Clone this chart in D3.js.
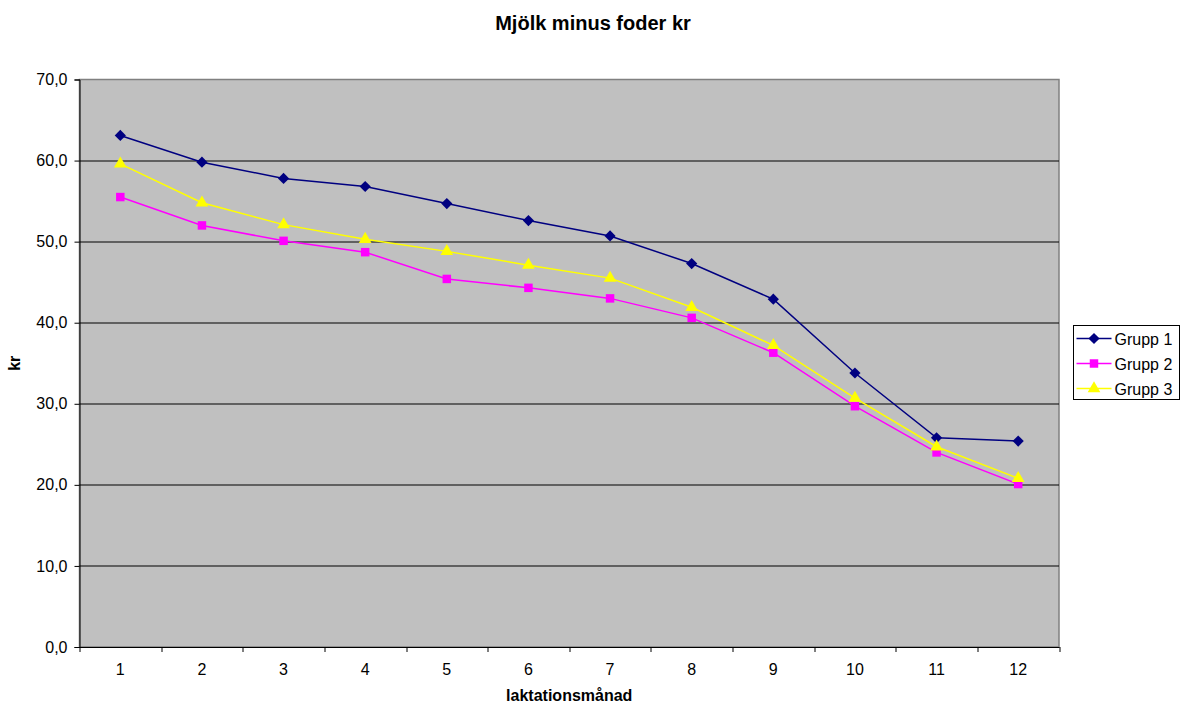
<!DOCTYPE html>
<html>
<head>
<meta charset="utf-8">
<script src="https://cdn.jsdelivr.net/npm/d3@7"></script>
<style>
  body { margin: 0; background: #fff; }
  text { font-family: "Liberation Sans", Arial, sans-serif; }
</style>
</head>
<body>
<div id="chart"></div>
<script>
const months = [1, 2, 3, 4, 5, 6, 7, 8, 9, 10, 11, 12];
const grupp1 = [63.1, 59.8, 57.8, 56.8, 54.7, 52.6, 50.7, 47.3, 42.9, 33.8, 25.8, 25.4];
const grupp2 = [55.5, 52.0, 50.1, 48.7, 45.4, 44.3, 43.0, 40.6, 36.3, 29.7, 24.0, 20.1];
const grupp3 = [59.6, 54.8, 52.1, 50.3, 48.8, 47.1, 45.5, 41.9, 37.2, 30.7, 24.7, 20.8];
const yTicks = [0, 10, 20, 30, 40, 50, 60, 70];

const series = [
  { name: "Grupp 1", values: grupp1, color: "#000080", symbol: d3.symbolDiamond2, size: 80 },
  { name: "Grupp 2", values: grupp2, color: "#ff00ff", symbol: d3.symbolSquare, size: 72 },
  { name: "Grupp 3", values: grupp3, color: "#ffff00", symbol: d3.symbolTriangle, size: 70 }
];

const W = 1183, H = 706;
const margin = { top: 79.5, right: 124, bottom: 59, left: 79.5 };
const width = W - margin.left - margin.right;
const height = H - margin.top - margin.bottom;

const svg = d3.select("#chart").append("svg")
  .attr("width", W).attr("height", H);

svg.append("text")
  .attr("x", 593).attr("y", 30)
  .attr("text-anchor", "middle")
  .style("font-size", "20px").style("font-weight", "bold")
  .text("Mjölk minus foder kr");

const g = svg.append("g").attr("transform", `translate(${margin.left},${margin.top})`);

const x = d3.scaleBand().domain(months).range([0, width]);
const y = d3.scaleLinear().domain([0, 70]).range([height, 0]);

g.append("rect")
  .attr("width", width).attr("height", height)
  .attr("fill", "#c0c0c0")
  .attr("stroke", "#808080").attr("stroke-width", 1.5);

// gridlines
g.selectAll(".grid").data(yTicks.filter(d => d > 0 && d < 70)).join("line")
  .attr("x1", 0).attr("x2", width)
  .attr("y1", d => Math.round(y(d)) + 0.5).attr("y2", d => Math.round(y(d)) + 0.5)
  .attr("stroke", "#000").attr("stroke-width", 1);

// y axis
const yAxis = g.append("g")
  .call(d3.axisLeft(y).tickValues(yTicks).tickSize(5).tickPadding(7)
    .tickFormat(d => d3.format(".1f")(d).replace(".", ",")));
yAxis.select(".domain").attr("stroke", "#000");
yAxis.selectAll("text").style("font-size", "16px").attr("fill", "#000");

// x axis
const xAxis = g.append("g").attr("transform", `translate(0,${height})`)
  .call(d3.axisBottom(x).tickSize(0).tickPadding(17));
xAxis.select(".domain").attr("stroke", "#000");
xAxis.selectAll("text").style("font-size", "16px").attr("fill", "#000");
xAxis.selectAll(".sep").data(d3.range(months.length + 1)).join("line")
  .attr("x1", i => Math.round(i * x.step()) + 0.5).attr("x2", i => Math.round(i * x.step()) + 0.5)
  .attr("y1", 0).attr("y2", 5).attr("stroke", "#000");

// axis titles
svg.append("text")
  .attr("x", margin.left + width / 2).attr("y", 701)
  .attr("text-anchor", "middle")
  .style("font-size", "16px").style("font-weight", "bold")
  .text("laktationsmånad");

svg.append("text")
  .attr("transform", `translate(20,${margin.top + height / 2}) rotate(-90)`)
  .attr("text-anchor", "middle")
  .style("font-size", "16px").style("font-weight", "bold")
  .text("kr");

// lines
const line = d3.line()
  .x((d, i) => x(months[i]) + x.bandwidth() / 2)
  .y(d => y(d));

series.forEach(s => {
  g.append("path").datum(s.values)
    .attr("fill", "none").attr("stroke", s.color).attr("stroke-width", 1.5)
    .attr("d", line);
  g.selectAll(null).data(s.values).join("path")
    .attr("transform", (d, i) => `translate(${x(months[i]) + x.bandwidth() / 2},${y(d)})`)
    .attr("d", d3.symbol().type(s.symbol).size(s.size))
    .attr("fill", s.color);
});

// legend
const lg = svg.append("g").attr("transform", "translate(1073.5,325.5)");
lg.append("rect").attr("width", 106).attr("height", 74)
  .attr("fill", "#fff").attr("stroke", "#000");
series.forEach((s, i) => {
  const ly = 13 + i * 25;
  lg.append("line").attr("x1", 3).attr("x2", 38).attr("y1", ly).attr("y2", ly)
    .attr("stroke", s.color).attr("stroke-width", 1.5);
  lg.append("path").attr("transform", `translate(20.5,${ly})`)
    .attr("d", d3.symbol().type(s.symbol).size(s.size)).attr("fill", s.color);
  lg.append("text").attr("x", 41).attr("y", ly + 6)
    .style("font-size", "16px").text(s.name);
});
</script>
</body>
</html>
